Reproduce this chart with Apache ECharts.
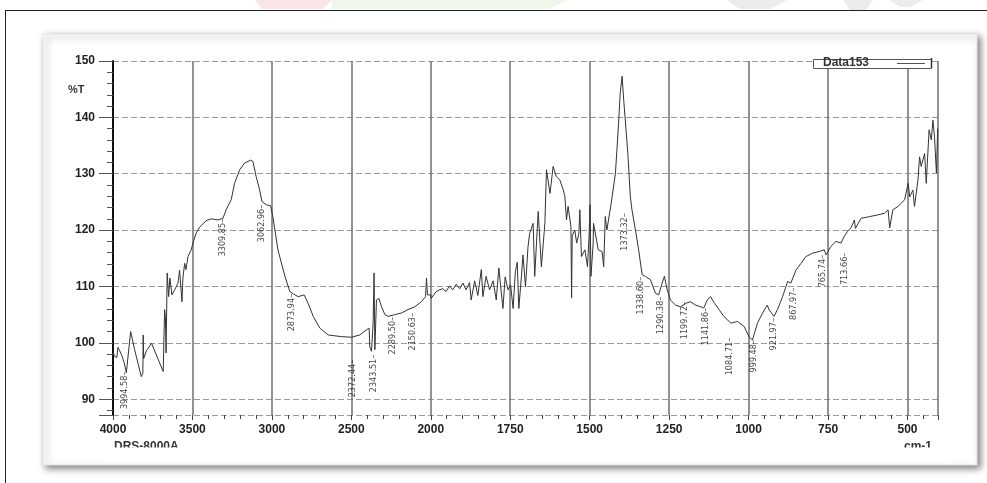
<!DOCTYPE html>
<html>
<head>
<meta charset="utf-8">
<script src="https://cdn.jsdelivr.net/npm/echarts@6/dist/echarts.min.js"></script>
<style>
  html, body { margin: 0; padding: 0; background: #fff; }
  #chart { width: 987px; height: 483px; }
</style>
</head>
<body>
<div id="chart"></div>
<script>
// spectrum: [wavenumber cm-1, %T]
const spectrum = [
  [4000, 98.4], [3990, 97.6], [3985, 97.5], [3976, 97.4], [3969, 99.2], [3958, 98.6], [3945, 97.8],
  [3930, 96.5], [3916, 94.7], [3889, 102.0], [3880, 101.7], [3864, 98.8], [3822, 94.0], [3812, 94.6],
  [3810, 101.4], [3807, 97.2], [3790, 98.6], [3757, 99.9], [3684, 94.9], [3679, 101.5], [3675, 105.9],
  [3670, 104.5], [3666, 98.2], [3659, 112.4], [3650, 108.2], [3642, 111.5], [3629, 108.5], [3610, 109.5],
  [3591, 110.6], [3581, 112.9], [3566, 107.3], [3560, 111.5], [3549, 114.1], [3541, 113.0], [3528, 115.3],
  [3508, 116.5], [3497, 117.7], [3476, 119.5], [3455, 120.5], [3413, 121.7], [3382, 122.0], [3340, 121.8],
  [3308, 122.1], [3288, 123.6], [3256, 125.4], [3235, 128.3], [3203, 130.7], [3172, 131.9], [3134, 132.4],
  [3120, 132.2], [3099, 129.5], [3077, 127.1], [3063, 125.1], [3036, 124.5], [3008, 124.3], [2994, 122.4],
  [2962, 116.5], [2918, 111.8], [2887, 109.1], [2866, 108.7], [2835, 108.2], [2797, 108.5], [2772, 107.0],
  [2740, 104.7], [2698, 102.6], [2646, 101.4], [2562, 101.1], [2499, 101.0], [2447, 101.4], [2405, 102.3],
  [2388, 102.6], [2384, 99.3], [2373, 98.5], [2363, 103.5], [2357, 112.4], [2352, 98.8], [2342, 107.6],
  [2327, 107.9], [2310, 106.4], [2289, 105.0], [2269, 104.7], [2227, 105.0], [2184, 105.3], [2143, 105.9],
  [2101, 106.4], [2059, 107.3], [2033, 108.2], [2027, 111.5], [2021, 108.5], [2000, 108.5], [1999, 107.9],
  [1983, 109.1], [1973, 109.4], [1962, 109.6], [1952, 109.1], [1941, 110.1], [1931, 109.4], [1920, 110.4],
  [1909, 109.6], [1899, 110.6], [1889, 109.4], [1878, 110.7], [1873, 107.6], [1862, 111.0], [1852, 108.4],
  [1841, 113.0], [1836, 108.2], [1826, 111.8], [1815, 109.4], [1804, 111.0], [1794, 107.6], [1786, 113.3],
  [1773, 106.1], [1766, 111.7], [1757, 109.4], [1749, 110.3], [1741, 106.1], [1734, 112.6], [1728, 114.3],
  [1723, 106.1], [1715, 111.7], [1710, 115.6], [1702, 109.9], [1694, 117.1], [1689, 119.4], [1678, 121.2],
  [1673, 111.8], [1662, 123.3], [1652, 113.5], [1641, 121.2], [1636, 130.7], [1631, 131.0], [1625, 126.5],
  [1615, 131.3], [1610, 131.6], [1605, 129.5], [1594, 128.9], [1583, 127.1], [1578, 125.9], [1573, 121.8],
  [1568, 124.2], [1559, 120.6], [1557, 108.0], [1555, 119.0], [1547, 120.0], [1541, 117.7], [1534, 119.4],
  [1531, 123.6], [1526, 115.3], [1515, 116.5], [1507, 113.5], [1502, 118.9], [1499, 124.5], [1496, 111.8],
  [1489, 117.7], [1488, 121.2], [1473, 116.5], [1461, 116.2], [1456, 113.5], [1451, 122.4], [1446, 120.0],
  [1433, 124.5], [1419, 130.1], [1409, 139.0], [1404, 144.3], [1398, 147.3], [1393, 143.1], [1388, 139.5],
  [1380, 133.6], [1372, 125.9], [1367, 123.6], [1356, 120.0], [1346, 116.5], [1335, 112.1], [1325, 111.8],
  [1309, 111.2], [1293, 108.8], [1283, 108.5], [1272, 110.6], [1265, 111.8], [1256, 109.4], [1246, 107.6],
  [1230, 106.7], [1214, 106.4], [1198, 107.0], [1183, 107.3], [1167, 106.7], [1151, 106.4], [1141, 106.2],
  [1130, 107.6], [1120, 108.2], [1107, 107.0], [1093, 105.9], [1078, 104.7], [1056, 103.5], [1035, 103.8],
  [1014, 102.9], [999, 101.1], [988, 100.5], [972, 103.5], [956, 105.3], [941, 106.7], [936, 105.9],
  [920, 104.7], [909, 105.9], [893, 108.2], [877, 110.9], [867, 110.6], [851, 112.9], [835, 114.1],
  [820, 115.3], [799, 115.9], [778, 116.2], [762, 116.5], [756, 115.6], [741, 117.1], [725, 118.0],
  [709, 117.7], [699, 118.9], [688, 119.8], [678, 120.4], [667, 121.8], [664, 120.3], [646, 122.1],
  [619, 122.4], [593, 122.7], [572, 123.0], [561, 123.6], [556, 120.4], [546, 123.6], [530, 124.2],
  [519, 124.8], [509, 125.4], [498, 128.3], [493, 125.9], [483, 127.1], [478, 124.2], [467, 128.9],
  [462, 133.0], [457, 131.3], [446, 133.6], [441, 128.3], [432, 137.8], [425, 136.0], [420, 139.5],
  [415, 136.6], [409, 130.1], [405, 138.0]
];

// peak labels and the %T at the tip of each label's leader
const peakLabels = [3994.58, 3309.85, 3062.96, 2873.94, 2372.44, 2343.51, 2289.50, 2150.63,
  1373.32, 1338.60, 1290.38, 1199.72, 1141.86, 1084.71, 999.48, 921.97, 867.97, 765.74, 713.66];
const peakTips = [94.9, 122.0, 124.5, 108.7, 97.0, 97.9, 104.6, 105.3,
  123.0, 111.7, 108.2, 107.3, 106.2, 100.9, 100.5, 104.4, 109.8, 115.6, 116.0];

const seriesName = 'Data153';
const xTicks = [4000, 3500, 3000, 2500, 2000, 1750, 1500, 1250, 1000, 750, 500];

// the instrument plots 4000-2000 at half the scale of 2000-400
function toAxis(wn) { return wn >= 2000 ? (4000 - wn) / 2 : 1000 + (2000 - wn); }
function fromAxis(t) { return t <= 1000 ? 4000 - 2 * t : 2000 - (t - 1000); }

// small horizontal nudges (px) where the printer moved a label aside
const labelNudge = { 3994.58: 10.5, 2372.44: -19, 2343.51: -3, 2289.5: 8, 2150.63: 6,
  1373.32: -5, 1290.38: 4, 1141.86: 2, 1084.71: 8, 999.48: 5, 867.97: 3, 713.66: 5 };
const T_PER_PX = 2596 / 825;

const chart = echarts.init(document.getElementById('chart'), null, { renderer: 'canvas' });

const axisFont = "'Liberation Sans', Arial, sans-serif";
const narrowFont = "'Liberation Sans Narrow', 'DejaVu Sans Condensed', 'Roboto Condensed', 'Liberation Sans', sans-serif";

const option = {
  animation: false,
  backgroundColor: '#fff',
  grid: { left: 113, right: 49, top: 61, bottom: 68 },
  xAxis: {
    type: 'value',
    min: 0,
    max: 2596,
    interval: 250,
    axisLine: { show: false },
    axisTick: { show: true, length: 5, lineStyle: { color: '#444' } },
    minorTick: { show: true, splitNumber: 5, length: 4, lineStyle: { color: '#444' } },
    axisLabel: {
      margin: 9, fontSize: 12, fontWeight: 'bold', color: '#222', fontFamily: axisFont,
      showMaxLabel: false,
      formatter: v => {
        const wn = Math.round(fromAxis(v));
        return xTicks.includes(wn) ? String(wn) : '';
      }
    },
    splitLine: { show: true, lineStyle: { color: '#6f6f6f', width: 1.5 } }
  },
  yAxis: {
    type: 'value',
    min: 87.2,
    max: 150,
    splitNumber: 6,
    axisLine: { show: true, lineStyle: { color: '#111', width: 2 } },
    axisTick: { show: true, length: 14, lineStyle: { color: '#555' } },
    minorTick: { show: true, splitNumber: 5, length: 6, lineStyle: { color: '#555' } },
    axisLabel: {
      margin: 18, fontSize: 12, fontWeight: 'bold', color: '#222', fontFamily: axisFont,
      showMinLabel: false
    },
    splitLine: { show: true, lineStyle: { color: '#9a9a9a', width: 1, type: [6, 3] } }
  },
  series: [
    {
      name: seriesName,
      type: 'line',
      data: spectrum.map(p => [toAxis(p[0]), p[1]]),
      symbol: 'none',
      z: 3,
      lineStyle: { color: '#333', width: 1 }
    },
    {
      name: 'peaks',
      type: 'scatter',
      z: 4,
      symbolSize: 1,
      itemStyle: { color: 'rgba(0,0,0,0)' },
      emphasis: { disabled: true },
      data: peakLabels.map((p, i) => [toAxis(p) + (labelNudge[p] || 0) * T_PER_PX, peakTips[i], p]),
      label: {
        show: true,
        position: 'inside',
        rotate: 90,
        align: 'right',
        verticalAlign: 'middle',
        fontSize: 9,
        color: '#111',
        fontFamily: narrowFont,
        formatter: d => d.data[2].toFixed(2) + '\u2013'
      }
    }
  ],
  graphic: [
    // faint watermark shapes at the very top
    { type: 'polygon', z: -20, shape: { points: [[255, 0], [332, 0], [322, 9], [262, 9]] }, style: { fill: '#fbe4e8' } },
    { type: 'polygon', z: -20, shape: { points: [[332, 0], [568, 0], [548, 9], [332, 9]] }, style: { fill: '#eef7e9' } },
    { type: 'polygon', z: -20, shape: { points: [[727, 0], [787, 0], [770, 9], [740, 9]] }, style: { fill: '#ececec' } },
    { type: 'polygon', z: -20, shape: { points: [[843, 0], [873, 0], [866, 10], [850, 10]] }, style: { fill: '#ececec' } },
    { type: 'polygon', z: -20, shape: { points: [[890, 0], [923, 0], [910, 7], [900, 7]] }, style: { fill: '#ececec' } },
    // outer frame
    { type: 'line', z: -15, shape: { x1: 5, y1: 10.5, x2: 987, y2: 10.5 }, style: { stroke: '#222', lineWidth: 1 } },
    { type: 'line', z: -15, shape: { x1: 5.5, y1: 10, x2: 5.5, y2: 483 }, style: { stroke: '#222', lineWidth: 1 } },
    // card with shadow
    {
      type: 'rect', z: -10,
      shape: { x: 43, y: 34, width: 934, height: 431 },
      style: { fill: '#fff', stroke: '#e4e4e4', lineWidth: 1, shadowBlur: 7, shadowOffsetX: 3, shadowOffsetY: 3, shadowColor: 'rgba(0,0,0,0.5)' }
    },
    // legend box
    { type: 'rect', z: 10, shape: { x: 813.5, y: 59.5, width: 118, height: 9 }, style: { fill: '#fff', stroke: '#555', lineWidth: 1 } },
    { type: 'text', z: 11, x: 823, y: 57, style: { text: seriesName, fontSize: 12, fontWeight: 'bold', fill: '#333', fontFamily: axisFont } },
    { type: 'line', z: 11, shape: { x1: 897, y1: 63.5, x2: 925, y2: 63.5 }, style: { stroke: '#555', lineWidth: 1 } },
    { type: 'line', z: 11, shape: { x1: 931.5, y1: 58, x2: 931.5, y2: 68 }, style: { stroke: '#333', lineWidth: 1.5 } },
    // axis captions
    { type: 'text', z: 10, x: 68, y: 84, style: { text: '%T', fontSize: 11, fontWeight: 'bold', fill: '#333', fontFamily: axisFont } },
    { type: 'text', z: 10, x: 114, y: 441, style: { text: 'DRS-8000A', fontSize: 12, fontWeight: 'bold', fill: '#333', fontFamily: axisFont } },
    { type: 'text', z: 10, x: 904, y: 441, style: { text: 'cm-1', fontSize: 12, fontWeight: 'bold', fill: '#333', fontFamily: axisFont } },
    // lower half of the captions is cut off in the print
    { type: 'rect', z: 12, shape: { x: 100, y: 447.5, width: 850, height: 12 }, style: { fill: '#fff' } }
  ]
};

chart.setOption(option);
window.addEventListener('resize', () => chart.resize());
</script>
</body>
</html>
